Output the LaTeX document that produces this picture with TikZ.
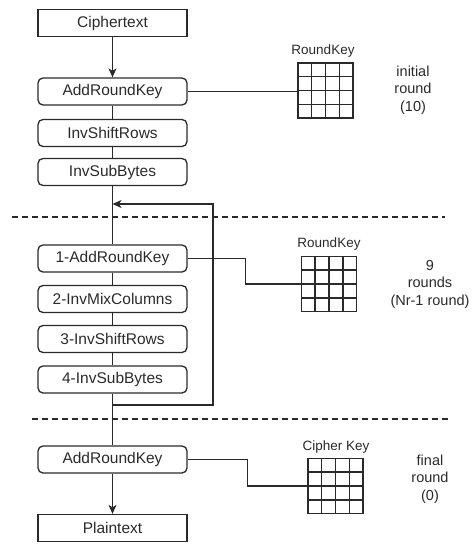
\documentclass[tikz,border=0pt]{standalone}
\usepackage{fontspec}
\setmainfont{Liberation Sans}
\usetikzlibrary{arrows.meta,calc}
\definecolor{ink}{HTML}{2A2A2A}
\begin{document}
\begin{tikzpicture}[x=1pt,y=-1pt,
  every node/.style={text=ink},
  stage/.style={draw=ink,line width=1.3pt,rounded corners=5pt,minimum width=149pt,
    minimum height=27pt,inner sep=0pt,font=\fontsize{15.5}{18}\selectfont},
  endbox/.style={stage,rounded corners=0pt},
  wire/.style={draw=ink,line width=1.2pt},
  flow/.style={wire,-{Stealth[length=9pt,width=8pt,inset=2.5pt]}},
  keygrid/.style={draw=ink,line width=1.3pt,minimum width=55pt,minimum height=55pt,inner sep=0pt},
  cell/.style={draw=ink,line width=1.2pt},
  keylabel/.style={font=\fontsize{13.5}{16}\selectfont,inner sep=0pt},
  note/.style={font=\fontsize{14.5}{17.5}\selectfont,align=center,inner sep=0pt},
  sep/.style={draw=ink,line width=1.1pt,dash pattern=on 6pt off 4pt}
]
\useasboundingbox (0,0) rectangle (473,544);

% processing stages
\node[endbox] (ct)   at (112.5,23)    {Ciphertext};
\node[stage]  (ark0) at (112.5,91.5)  {AddRoundKey};
\node[stage]  (isr0) at (112.5,133)   {InvShiftRows};
\node[stage]  (isb0) at (112.5,172)   {InvSubBytes};
\node[stage]  (ark1) at (112.5,258.5) {1-AddRoundKey};
\node[stage]  (imc1) at (112.5,299)   {2-InvMixColumns};
\node[stage]  (isr1) at (112.5,339)   {3-InvShiftRows};
\node[stage]  (isb1) at (112.5,379.5) {4-InvSubBytes};
\node[stage]  (ark2) at (112.5,459.5) {AddRoundKey};
\node[endbox] (pt)   at (112.5,528)   {Plaintext};

% key matrices (4x4 state grids)
\node[keygrid] (k0) at (325.5,90.5) {};
\node[keygrid] (k1) at (329,284) {};
\node[keygrid] (k2) at (335.5,486) {};
\foreach \g in {k0,k1,k2}{
  \foreach \k in {1,2,3}{
    \draw[cell] ($(\g.north west)!\k/4!(\g.north east)$) -- ($(\g.south west)!\k/4!(\g.south east)$);
    \draw[cell] ($(\g.north west)!\k/4!(\g.south west)$) -- ($(\g.north east)!\k/4!(\g.south east)$);
  }
}
\node[keylabel] (k0l) at (323,51) {RoundKey};
\node[keylabel] (k1l) at (329,244) {RoundKey};
\node[keylabel] (k2l) at (336,447) {Cipher Key};

% round descriptions
\node[note] (n0) at (413,90) {initial\\round\\(10)};
\node[note] (n1) at (430,284) {9\\rounds\\(Nr-1 round)};
\node[note] (n2) at (430,479) {final\\round\\(0)};

% round separators
\coordinate (s1a) at (12,217);  \coordinate (s1b) at (445,217);
\coordinate (s2a) at (32,419);  \coordinate (s2b) at (448,419);
\draw[sep] (s1a) -- (s1b);
\draw[sep] (s2a) -- (s2b);

% main data path
\draw[flow] (ct) -- (ark0);
\draw[wire] (ark0) -- (isr0);
\draw[wire] (isr0) -- (isb0);
\draw[wire] (isb0) -- (ark1);
\draw[wire] (ark1) -- (imc1);
\draw[wire] (imc1) -- (isr1);
\draw[wire] (isr1) -- (isb1);
\draw[wire] (isb1) -- (ark2);
\draw[flow] (ark2) -- (pt);

% loop back for the repeated rounds
\coordinate (loopout) at (112.5,405);
\coordinate (loopin)  at (112.5,204);
\draw[flow] (loopout) -- ++(100.5,0) |- (loopin);

% key inputs
\draw[wire] (ark0.east) -- (k0.west |- ark0.east);
\draw[wire] (ark1.east) -- ++(58,0) |- (k1.west);
\draw[wire] (ark2.east) -- ++(60,0) |- (k2.west);
\end{tikzpicture}
\end{document}
